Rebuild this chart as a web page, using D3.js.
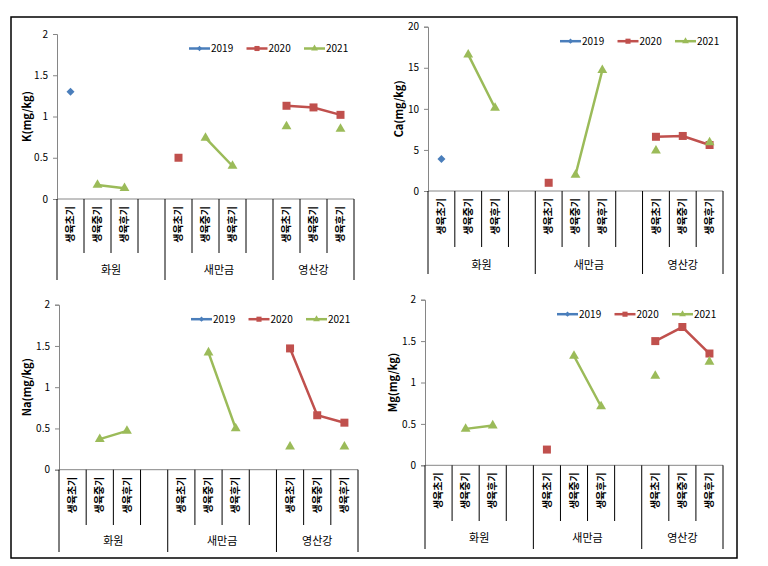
<!DOCTYPE html>
<html>
<head>
<meta charset="utf-8">
<script src="https://cdn.jsdelivr.net/npm/d3@7"></script>
<style>
  body { margin: 0; background: #fff; }
  svg text { font-family: "Noto Sans CJK KR", "Noto Sans", sans-serif; }
</style>
</head>
<body>
<div id="chart"></div>
<script>
// categories (11 slots, 4th slot of the first two groups is empty)
var categories = ["생육초기", "생육중기", "생육후기", "",
                  "생육초기", "생육중기", "생육후기", "",
                  "생육초기", "생육중기", "생육후기"];
var categoryGroups = ["화원", "화원", "화원", "화원",
                      "새만금", "새만금", "새만금", "새만금",
                      "영산강", "영산강", "영산강"];
var groups = ["화원", "새만금", "영산강"];
var years = ["2019", "2020", "2021"];

var kTicks = [0, 0.5, 1, 1.5, 2];
var caTicks = [0, 5, 10, 15, 20];
var naTicks = [0, 0.5, 1, 1.5, 2];
var mgTicks = [0, 0.5, 1, 1.5, 2];

var N = null;
var k2019 = [1.3, N, N, N, N, N, N, N, N, N, N];
var k2020 = [N, N, N, N, 0.5, N, N, N, 1.13, 1.11, 1.02];
var k2021 = [N, 0.17, 0.13, N, N, 0.74, 0.40, N, 0.88, N, 0.85];

var ca2019 = [3.9, N, N, N, N, N, N, N, N, N, N];
var ca2020 = [N, N, N, N, 1.0, N, N, N, 6.6, 6.7, 5.6];
var ca2021 = [N, 16.6, 10.1, N, N, 1.95, 14.7, N, 4.9, N, 5.9];

var na2019 = [N, N, N, N, N, N, N, N, N, N, N];
var na2020 = [N, N, N, N, N, N, N, N, 1.47, 0.66, 0.57];
var na2021 = [N, 0.37, 0.47, N, N, 1.42, 0.50, N, 0.28, N, 0.28];

var mg2019 = [N, N, N, N, N, N, N, N, N, N, N];
var mg2020 = [N, N, N, N, 0.19, N, N, N, 1.50, 1.67, 1.35];
var mg2021 = [N, 0.44, 0.48, N, N, 1.32, 0.71, N, 1.08, N, 1.25];

var colors = { "2019": "#4a7ebb", "2020": "#c0504d", "2021": "#9bbb59" };

var svg = d3.select("#chart").append("svg")
  .attr("width", 768).attr("height", 566);

// outer frame
svg.append("rect")
  .attr("x", 11).attr("y", 17).attr("width", 726).attr("height", 541)
  .attr("fill", "none").attr("stroke", "#000").attr("stroke-width", 1.5);

function marker(year, big) {
  if (year == "2019") return d3.symbol().type(d3.symbolSquare).size(big ? 32 : 14)();
  if (year == "2020") return d3.symbol().type(d3.symbolSquare).size(big ? 64 : 26)();
  return d3.symbol().type(d3.symbolTriangle).size(big ? 42 : 20)();
}

function drawPanel(p) {
  var g = svg.append("g");
  var x = d3.scaleBand().domain(d3.range(categories.length)).range([p.left, p.right]);
  var y = d3.scaleLinear().domain([0, p.ticks[p.ticks.length - 1]]).range([p.bottom, p.top]);

  // y axis
  var yAxis = g.append("g")
    .attr("transform", "translate(" + p.left + ",0)")
    .call(d3.axisLeft(y).tickValues(p.ticks).tickSize(4).tickPadding(5).tickFormat(d3.format("")));
  yAxis.select(".domain").attr("stroke", "#868686");
  yAxis.selectAll(".tick line").attr("stroke", "#868686");
  yAxis.selectAll("text").attr("font-size", 10).attr("fill", "#000");

  // x axis line
  g.append("line")
    .attr("x1", p.left).attr("x2", p.right)
    .attr("y1", y(0)).attr("y2", y(0))
    .attr("stroke", "#868686");

  // category dividers
  for (var i = 0; i <= categories.length; i++) {
    var xx = i < categories.length ? x(i) : p.right;
    var isGroup = i == 0 || i == categories.length || categoryGroups[i] != categoryGroups[i - 1];
    g.append("line")
      .attr("x1", xx).attr("x2", xx)
      .attr("y1", y(0)).attr("y2", isGroup ? p.groupEnd : p.tickEnd)
      .attr("stroke", "#000").attr("stroke-width", 1);
  }

  // category labels (rotated)
  g.selectAll(".cat").data(categories).enter().append("text")
    .attr("transform", function (d, i) {
      return "translate(" + (x(i) + x.bandwidth() / 2) + "," + (y(0) + 7) + ") rotate(-90)";
    })
    .attr("text-anchor", "end").attr("dy", "0.36em")
    .attr("font-size", 10).attr("font-weight", 600)
    .text(function (d) { return d; });

  // group labels
  groups.forEach(function (gr) {
    var idx = categoryGroups.map(function (c, i) { return c == gr ? i : -1; }).filter(function (i) { return i >= 0; });
    var x0 = x(idx[0]);
    var x1 = idx[idx.length - 1] == categories.length - 1 ? p.right : x(idx[idx.length - 1]) + x.bandwidth();
    g.append("text")
      .attr("x", (x0 + x1) / 2).attr("y", p.groupLabelY).attr("dy", "0.35em")
      .attr("text-anchor", "middle").attr("font-size", 11)
      .text(gr);
  });

  // y title
  g.append("text")
    .attr("transform", "translate(" + p.titleX + "," + ((p.top + p.bottom) / 2) + ") rotate(-90)")
    .attr("text-anchor", "middle").attr("dy", "0.35em")
    .attr("font-size", 11).attr("font-weight", "bold")
    .text(p.title);

  // series
  years.forEach(function (yr, k) {
    var vals = p.series[k];
    var line = d3.line()
      .defined(function (d) { return d != null; })
      .x(function (d, i) { return x(i) + x.bandwidth() / 2; })
      .y(function (d) { return y(d); });
    g.append("path").datum(vals)
      .attr("d", line)
      .attr("fill", "none").attr("stroke", colors[yr]).attr("stroke-width", 2.5);
    vals.forEach(function (v, i) {
      if (v == null) return;
      g.append("path")
        .attr("d", marker(yr, true))
        .attr("transform", "translate(" + (x(i) + x.bandwidth() / 2) + "," + y(v) + ")" + (yr == "2019" ? " rotate(45)" : ""))
        .attr("fill", colors[yr]);
    });
  });

  // legend
  years.forEach(function (yr, k) {
    var lx = p.left + 132 + k * 57.5;
    var ly = p.top + 14.5;
    g.append("line")
      .attr("x1", lx).attr("x2", lx + 21).attr("y1", ly).attr("y2", ly)
      .attr("stroke", colors[yr]).attr("stroke-width", 2.5);
    g.append("path")
      .attr("d", marker(yr, false))
      .attr("transform", "translate(" + (lx + 10.5) + "," + ly + ")" + (yr == "2019" ? " rotate(45)" : ""))
      .attr("fill", colors[yr]);
    g.append("text")
      .attr("x", lx + 22).attr("y", ly).attr("dy", "0.35em")
      .attr("font-size", 10).text(yr);
  });
}

drawPanel({ title: "K(mg/kg)", ticks: kTicks, series: [k2019, k2020, k2021],
  left: 57, right: 354, top: 34, bottom: 199, tickEnd: 253, groupEnd: 280, groupLabelY: 270, titleX: 27 });
drawPanel({ title: "Ca(mg/kg)", ticks: caTicks, series: [ca2019, ca2020, ca2021],
  left: 428, right: 723, top: 26.7, bottom: 191, tickEnd: 247, groupEnd: 274, groupLabelY: 265, titleX: 399 });
drawPanel({ title: "Na(mg/kg)", ticks: naTicks, series: [na2019, na2020, na2021],
  left: 59, right: 358, top: 304.7, bottom: 469.7, tickEnd: 525, groupEnd: 552, groupLabelY: 541, titleX: 27 });
drawPanel({ title: "Mg(mg/kg)", ticks: mgTicks, series: [mg2019, mg2020, mg2021],
  left: 425, right: 723, top: 299.7, bottom: 465.3, tickEnd: 521, groupEnd: 549, groupLabelY: 538, titleX: 393 });
</script>
</body>
</html>
